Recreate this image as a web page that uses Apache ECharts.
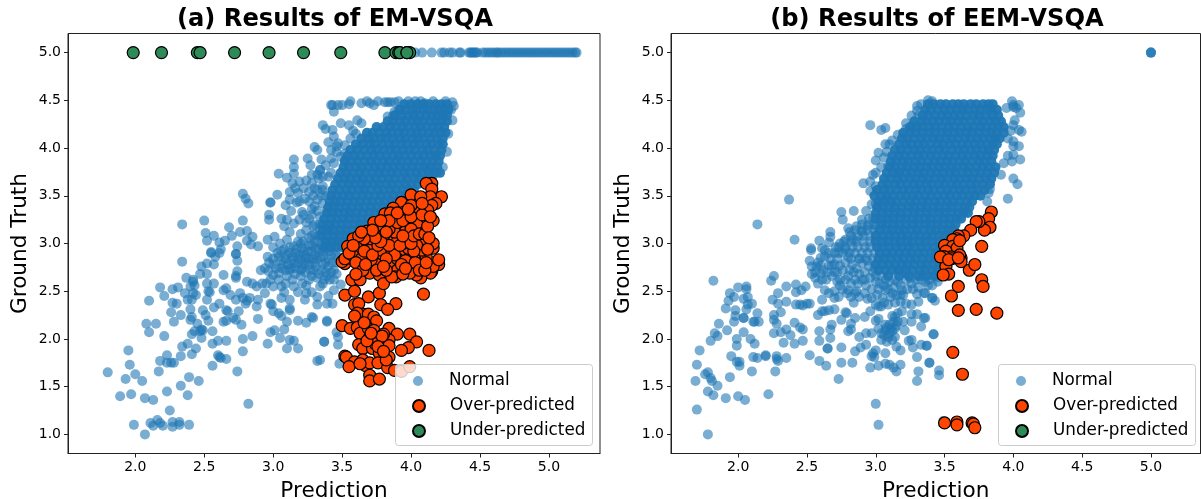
<!DOCTYPE html>
<html><head><meta charset="utf-8">
<style>html,body{margin:0;padding:0;background:#fff}#c{width:1201px;height:499px}</style>
<script src="https://cdn.jsdelivr.net/npm/echarts@6/dist/echarts.min.js"></script>
</head><body><div id="c"></div>
<script>
const xTicks=[2,2.5,3,3.5,4,4.5,5];
const yTicks=[1,1.5,2,2.5,3,3.5,4,4.5,5];
const titles=['(a) Results of EM-VSQA','(b) Results of EEM-VSQA'];
const seriesNames=['Normal','Over-predicted','Under-predicted'];

// Panel (a): normal, read at Ground Truth = 5
const aNormalTopX=[4.0,4.03,4.08,4.15,4.22,4.24,4.28,4.30,4.35,4.36,4.42,4.43,4.44,4.45,4.46,4.47,4.48,4.52,4.54,4.56,4.58,4.60,4.62,4.63,4.65,4.67,4.69,4.71,4.73,4.75,4.77,4.79,4.81,4.83,4.85,4.87,4.89,4.91,4.93,4.95,4.97,4.99,5.01,5.03,5.05,5.07,5.09,5.11,5.13,5.15,5.17,5.19,5.2];
// Panel (a): normal, sparse region
const aNormalSparse=[[1.80,1.65],[1.95,1.88],[1.96,1.73],[2.0,1.63],[1.93,1.58],[2.05,1.56],[1.89,1.40],[1.97,1.42],[2.07,1.38],[2.13,1.36],[1.99,1.10],[2.07,1.0],[2.11,1.12],[2.13,1.09],[2.16,1.15],[2.18,1.12],[2.20,1.09],[2.27,1.13],[2.27,1.08],[2.32,1.13],[2.32,1.10],[2.39,1.10],[2.25,1.25],[2.23,1.45],[2.33,1.51],[2.38,1.41],[2.39,1.60],[2.46,1.56],[2.17,1.66],[2.18,1.77],[2.23,1.83],[2.23,1.75],[2.26,1.75],[2.28,1.75],[2.33,1.82],[2.34,1.92],[2.38,1.95],[2.44,1.90],[2.41,1.84],[2.08,2.16],[2.15,2.16],[2.10,2.07],[2.21,2.03],[2.10,2.40],[2.18,2.54],[2.21,2.45],[2.27,2.52],[2.31,2.54],[2.27,2.38],[2.30,2.37],[2.26,2.28],[2.33,2.25],[2.28,2.18],[2.34,2.81],[2.37,2.64],[2.36,2.48],[2.38,2.41],[2.42,2.62],[2.42,2.60],[2.43,2.56],[2.40,2.55],[2.42,2.48],[2.44,2.46],[2.41,2.41],[2.40,2.31],[2.41,2.23],[2.40,2.20],[2.45,2.16],[2.43,2.08],[2.41,2.05],[2.49,2.09],[2.48,2.10],[2.47,2.08],[2.48,2.01],[2.49,2.30],[2.51,2.25],[2.53,2.19],[2.52,2.41],[2.53,2.50],[2.52,2.58],[2.57,2.58],[2.54,2.49],[2.57,2.33],[2.47,2.68],[2.48,2.76],[2.52,2.79],[2.52,2.68],[2.55,2.90],[2.58,2.86],[2.57,2.78],[2.61,2.90],[2.56,2.08],[2.56,1.95],[2.60,1.98],[2.66,1.98],[2.60,1.83],[2.61,1.81],[2.62,1.80],[2.66,1.79],[2.56,1.72],[2.74,1.66],[2.82,1.32],[2.78,1.87],[2.78,2.0],[2.85,2.03],[2.77,2.15],[2.61,2.37],[2.64,2.18],[2.66,2.19],[2.66,2.30],[2.67,2.29],[2.69,2.46],[2.64,2.51],[2.66,2.53],[2.64,2.67],[2.73,2.66],[2.73,2.64],[2.74,2.71],[2.73,2.89],[2.74,2.82],[2.71,2.22],[2.73,2.20],[2.75,2.29],[2.73,2.41],[2.76,2.48],[2.78,2.43],[2.81,2.40],[2.83,2.43],[2.80,2.37],[2.81,2.60],[2.85,2.58],[2.89,2.21],[2.88,2.34],[2.89,2.41],[2.88,2.55],[2.92,2.58],[2.91,2.72],[2.96,1.95],[2.98,2.07],[3.01,2.09],[3.05,2.01],[3.08,2.10],[3.10,1.90],[3.12,1.99],[3.15,1.98],[3.18,1.90],[3.32,1.77],[3.37,1.97],[3.39,2.18],[3.24,2.17],[3.18,2.19],[3.28,2.23],[3.29,2.22],[3.10,2.18],[2.98,2.37],[2.99,2.36],[3.0,2.29],[3.04,2.27],[3.06,2.24],[3.12,2.3],[3.12,2.32],[3.06,2.43],[3.12,2.41],[3.43,2.37],[3.39,2.19],[3.46,2.07],[3.47,2.02],[3.37,1.97],[3.47,1.94],[3.34,1.78],[3.48,1.74],[3.49,2.57],[3.44,2.51],
[2.34,3.20],[2.5,3.24],[2.51,3.11],[2.52,3.03],[2.57,3.08],[2.61,3.01],[2.65,3.03],[2.62,2.94],[2.55,2.91],[2.68,3.17],[2.70,3.08],[2.76,3.12],[2.81,3.13],[2.78,3.24],[2.74,2.97],[2.73,2.89],[2.81,3.03],[2.84,2.99],[2.89,2.97],[2.85,3.07],[2.96,3.04],[2.97,3.30],[2.97,3.25],[2.78,3.52],[2.80,3.47],[2.82,3.42],[2.98,3.43],[2.98,3.43],[3.03,3.51],[3.01,3.07],[3.04,3.73],[3.10,3.69],[3.15,3.88],[3.15,3.80],[3.15,3.73],[3.14,3.63],[3.19,3.65],[3.24,3.66],[3.25,3.89],[3.27,3.82],[3.34,3.77],[3.33,3.68],[3.30,4.01],[3.32,3.98],[3.36,4.24],[3.38,4.20],[3.42,4.45],[3.12,3.54],[3.18,3.53],[3.26,3.54],[3.19,3.44],[3.12,3.46],[3.09,3.40],[3.13,3.34],[3.21,3.33],[3.26,3.44],[3.30,3.39],[3.30,3.58],[3.36,3.56],[3.06,3.26],[3.10,3.25],[3.19,3.25],[3.24,3.22],[3.15,3.21],[3.12,3.12],[3.29,3.18],[3.34,3.28],[3.39,3.35],[3.41,3.18],[3.17,3.43],[3.23,3.47],[3.16,3.58],[3.22,3.58],[3.28,3.63],[3.22,3.30],[3.28,3.30],[3.32,3.46],[3.36,3.42],[3.34,3.14],[3.30,3.10],[3.26,3.06],[3.20,3.10],[3.28,3.36],[3.08,3.18],
[2.94,2.74],[2.965,2.71],[3.0,2.67],[3.04,2.69],[2.95,2.58],[3.0,2.55],[2.94,2.48],[3.09,2.58],[3.06,2.55],[3.15,2.55],[3.21,2.58],[3.12,2.72],[3.21,2.74],[3.24,2.48],[3.23,2.41],[3.32,2.44],[3.32,2.36],[3.39,2.37],[3.34,2.55],[3.29,2.72],[3.26,2.62],[3.32,2.64],[3.36,2.58],[2.97,2.80],[3.0,2.84],[3.03,2.90],[3.06,2.82],[3.08,2.94],[3.10,2.88],[3.13,2.82],[3.15,2.97],[3.16,2.90],[3.18,2.84],[3.20,3.0],[3.22,2.92],[3.24,2.85],[3.26,2.98],[3.28,2.92],[3.30,2.80],[3.32,3.02],[3.33,2.94],[3.34,2.86],[3.36,2.78],[3.38,2.70],[3.40,2.84],[3.41,2.62],[3.44,2.72],[3.46,2.80],[3.00,2.96],[3.05,3.0],[3.10,3.04],[3.18,3.02],[3.06,2.74],[3.10,2.66],[3.16,2.68],[3.20,2.66],[3.12,2.96],[3.22,2.78],[3.26,2.78],[3.30,2.88],[3.36,2.92],[3.41,2.92],[3.38,3.02],[3.14,2.62],[3.04,2.62],[2.98,2.62],[3.24,2.56],[3.18,2.49],[3.08,2.49],[3.28,2.49],[3.40,2.45],
[3.43,4.45],[3.47,4.45],[3.50,4.45],[3.56,4.49],[3.55,4.46],[3.44,4.38],[3.64,4.47],[3.68,4.49],[3.70,4.47],[3.73,4.45],[3.76,4.49],[3.81,4.48],[3.83,4.48],[3.85,4.48],[3.88,4.48],[3.91,4.49],[3.98,4.49],[4.03,4.49],[4.07,4.49],[4.10,4.47],[4.16,4.49],[4.25,4.49],[4.30,4.48],[4.31,4.44],[4.29,4.40],[3.87,4.34],[3.83,4.33],[3.88,4.38],[3.91,4.40],[3.49,4.26],[3.43,4.19],[3.44,4.12],[3.47,4.05],[3.52,4.03],[3.56,4.10],[3.55,4.24],[3.61,4.29],[3.64,4.26],[3.60,4.15],[3.58,4.18],[3.49,3.91],[4.26,3.96],[4.23,3.80],[4.16,3.77],[4.11,3.77],[4.27,4.15],[4.30,4.29],[3.42,3.89],[3.44,3.84],[3.40,3.70],[3.34,3.77],[3.42,3.74],[3.36,3.60],[3.52,3.94],[3.52,3.87],[3.46,3.96],[3.38,3.50]];
// Panel (a): extra points in the dark band left of the core
const aNormalDense=[[2.96,2.86],[3.0,2.78],[3.02,2.74],[3.04,2.86],[3.06,2.92],[3.07,2.78],[3.09,2.84],[3.09,2.72],[3.11,2.78],[3.12,2.9],[3.13,2.74],[3.14,2.86],[3.15,2.79],[3.16,2.74],[3.17,2.94],[3.18,2.79],[3.19,2.88],[3.2,2.72],[3.2,2.83],[3.21,2.95],[3.23,2.88],[3.23,2.7],[3.24,2.8],[3.25,2.92],[3.26,2.84],[3.27,2.72],[3.28,2.98],[3.28,2.66],[3.29,2.84],[3.31,2.94],[3.31,2.76],[3.32,2.84],[3.33,2.68],[3.35,2.98],[3.35,2.72],[3.36,2.86],[3.37,2.62],[3.38,2.94],[3.38,2.8],[3.39,2.66],[3.4,2.98],[3.4,2.76],[3.42,2.88],[3.42,2.7],[3.43,2.8],[3.44,3.0],[3.44,2.62],[3.45,2.9],[3.46,2.68],[3.47,2.86],[3.3,3.02],[3.28,3.08],[3.33,3.08],[3.24,3.14],[3.22,3.02],[3.3,3.2],[3.34,3.2],[3.26,3.26],[3.32,3.34],[3.35,3.5],[3.29,3.5],[3.32,3.56],[3.36,3.7],[3.32,3.72],[3.28,3.72],[3.38,3.82],[3.35,3.88],[3.42,3.98],[3.46,4.02],[3.4,4.06]];
// Panel (a): normal, saturated core; each row is [Ground Truth, predictions]
const aNormalCore=[[4.46,[3.95,4.00,4.05,4.09,4.13,4.18,4.22,4.26]],[4.40,[3.92,3.96,4.01,4.04,4.09,4.12,4.17,4.20,4.24,4.27]],[4.34,[3.88,3.93,3.98,4.02,4.06,4.11,4.15,4.19,4.23,4.26]],[4.28,[3.83,3.87,3.92,3.96,4.01,4.05,4.09,4.14,4.18,4.22,4.26]],[4.22,[3.75,3.80,3.85,3.89,3.94,3.98,4.03,4.07,4.11,4.16,4.20,4.24]],[4.16,[3.68,3.72,3.77,3.82,3.86,3.91,3.95,4.00,4.04,4.08,4.13,4.17,4.21,4.25]],[4.10,[3.64,3.69,3.73,3.78,3.82,3.87,3.92,3.96,4.01,4.05,4.09,4.14,4.19,4.23]],[4.04,[3.60,3.65,3.70,3.74,3.79,3.84,3.88,3.93,3.97,4.02,4.06,4.11,4.15,4.20,4.23]],[3.98,[3.56,3.61,3.66,3.71,3.75,3.80,3.85,3.89,3.94,3.99,4.03,4.08,4.12,4.17,4.22]],[3.92,[3.54,3.59,3.63,3.68,3.73,3.77,3.82,3.87,3.91,3.95,4.00,4.05,4.09,4.14,4.18,4.21]],[3.86,[3.52,3.57,3.61,3.66,3.71,3.75,3.80,3.84,3.89,3.93,3.98,4.02,4.07,4.11,4.16,4.20]],[3.80,[3.51,3.55,3.60,3.64,3.69,3.74,3.78,3.83,3.87,3.92,3.96,4.01,4.05,4.10,4.14,4.19]],[3.74,[3.49,3.53,3.58,3.63,3.67,3.72,3.77,3.81,3.86,3.90,3.95,3.99,4.04,4.08,4.13,4.18,4.21]],[3.68,[3.47,3.52,3.56,3.61,3.65,3.70,3.74,3.79,3.84,3.88,3.93,3.97,4.02,4.06,4.11,4.15]],[3.62,[3.45,3.50,3.55,3.59,3.64,3.68,3.73,3.77,3.82,3.86,3.91,3.96,4.00,4.05]],[3.56,[3.43,3.48,3.53,3.57,3.62,3.66,3.71,3.76,3.80,3.85,3.89,3.94,3.98,4.02]],[3.50,[3.42,3.46,3.51,3.55,3.60,3.65,3.69,3.74,3.78,3.83,3.87,3.92,3.96]],[3.44,[3.41,3.45,3.49,3.54,3.59,3.63,3.68,3.72,3.77,3.81,3.86,3.90]],[3.38,[3.40,3.44,3.48,3.53,3.57,3.62,3.66,3.71,3.75,3.80,3.84]],[3.32,[3.39,3.43,3.47,3.52,3.56,3.60,3.65,3.70,3.74,3.78]],[3.26,[3.37,3.42,3.46,3.51,3.55,3.60,3.64,3.69,3.73]],[3.20,[3.36,3.41,3.45,3.50,3.54,3.59,3.63,3.67]],[3.14,[3.36,3.40,3.44,3.49,3.53,3.58,3.62]],[3.08,[3.35,3.39,3.44,3.48,3.53,3.56]],[3.02,[3.38,3.43,3.47,3.51]],[2.96,[3.37,3.42,3.46,3.50]]];
const aOver=[[4.09,2.47],[3.52,2.46],[3.59,2.50],[3.69,2.44],[3.77,2.48],[3.89,2.37],[3.78,2.36],[3.83,2.31],[3.59,2.36],[3.62,2.37],[3.65,2.26],[3.61,2.27],[3.69,2.26],[3.59,2.24],[3.73,2.23],[3.75,2.19],[3.50,2.14],[3.56,2.11],[3.61,2.12],[3.63,2.06],[3.69,2.11],[3.73,2.09],[3.70,2.02],[3.76,2.01],[3.84,2.11],[3.90,2.05],[3.99,2.05],[4.04,1.97],[4.13,1.88],[3.98,1.91],[3.93,1.88],[3.84,1.99],[3.84,1.93],[3.62,1.94],[3.65,1.90],[3.72,1.90],[3.77,1.85],[3.84,1.81],[3.52,1.82],[3.53,1.81],[3.59,1.76],[3.55,1.71],[3.65,1.78],[3.67,1.72],[3.70,1.75],[3.76,1.75],[3.83,1.70],[3.88,1.67],[3.93,1.66],[3.99,1.71],[3.70,1.62],[3.70,1.56],[3.77,1.58],[3.82,1.78],[3.63,1.74],[3.74,1.95],[3.68,1.98],[3.80,2.05],[3.66,2.17],[3.79,2.03],[3.71,2.06],[3.76,1.92],[3.8,1.87],
[4.20,2.78],[4.15,2.71],[4.14,2.69],[4.16,2.76],[4.07,2.64],[4.04,2.67],[3.99,2.79],[3.99,2.69],[4.07,2.78],[4.11,2.86],[4.02,2.86],[3.52,2.79],[3.50,2.81],[3.58,2.83],[3.62,2.78],[3.57,2.62],[3.63,2.62],[3.70,2.69],[3.77,2.67],[3.80,2.58],[3.73,2.79],[3.80,2.90],[3.85,2.78],[3.90,2.72],[3.89,2.65],[3.95,2.88],[3.86,2.65],[3.68,2.88],[3.75,2.81],
[4.15,3.63],[4.11,3.63],[4.15,3.57],[4.22,3.49],[4.14,3.49],[4.18,3.42],[4.15,3.40],[4.02,3.47],[4.00,3.51],[4.07,3.49],[4.12,3.35],[4.04,3.37],[3.93,3.43],[3.87,3.37],[3.95,3.33],[3.81,3.31],[3.85,3.32],[3.88,3.23],[3.97,3.26],[4.16,3.24],[4.09,3.19],[4.04,3.21],[3.73,3.22],[3.68,3.13],[3.75,3.11],[3.80,3.18],[3.92,3.14],[3.96,3.13],[3.98,3.05],[3.85,3.05],[3.58,3.05],[3.54,2.97],[3.65,2.97],[3.73,2.98],[3.81,2.97],[4.09,3.01],[4.16,2.95],[4.16,3.0],[4.08,2.93],[4.04,2.98],[3.95,2.90],[3.92,2.92],[3.79,2.89],[3.68,2.88],[3.61,2.90],[4.0,2.86],[3.52,2.84],[4.20,2.83],[3.90,2.84],[3.71,2.83],[3.60,2.96],[3.70,2.93],[3.78,2.93],[3.86,2.93],[3.98,2.95],[4.02,2.92],[3.88,2.88],[3.58,2.87],[3.64,2.84],[3.62,3.0],[3.70,3.05],[3.80,3.08],[3.90,3.02],[3.94,3.0],[3.88,3.12],[3.84,3.15],[4.0,3.15],
[3.55,2.9],[3.6,2.8],[3.66,2.92],[3.72,2.88],[3.76,2.98],[3.82,2.84],[3.84,2.98],[3.92,2.98],[3.96,2.82],[3.93,2.78],[4.03,2.8],[4.06,2.72],[4.1,2.72],[4.11,2.8],[3.65,2.72],[3.67,2.78],[3.6,2.68],[3.75,2.72],[3.82,2.72],[3.8,2.76],[3.94,2.68],[3.96,2.74],[4.0,3.0],[4.02,3.08],[4.06,3.1],[4.1,3.1],[4.12,3.18],[3.94,3.08],[3.9,3.22],[3.94,3.24],[4.0,3.28],[3.78,3.02],[3.74,3.06],[3.66,3.05],[3.72,3.14],[3.84,3.24],[3.78,3.24],[4.08,3.3],[4.14,3.28],[4.0,3.4],[4.08,3.42],[3.62,3.08],[3.58,2.98],[3.64,3.12],[3.9,3.32],[3.98,3.36],[3.82,3.12],[4.12,2.94],[4.13,3.06]];
const aUnderX=[1.985,2.19,2.45,2.47,2.72,2.97,3.22,3.49,3.81,3.89,3.91,3.92,3.97,3.99,3.97];

// Panel (b)
const bNormalSparse=[[5,5],[5,5],[5,5],[1.82,2.61],[1.72,1.88],[1.70,1.73],[1.76,1.63],[1.78,1.65],[1.69,1.56],[1.80,1.59],[1.81,1.56],[1.85,1.51],[1.78,1.45],[1.82,1.41],[1.91,1.38],[1.70,1.26],[1.78,1.0],[2.0,1.40],[2.05,1.36],[2.22,1.42],[1.94,1.60],[2.10,1.66],[2.27,1.66],[2.01,1.72],[1.99,1.76],[2.01,1.76],[1.95,1.82],[2.11,1.81],[2.14,1.80],[2.20,1.82],[2.20,1.83],[2.28,1.82],[2.28,1.79],[2.29,1.77],[2.35,1.80],[1.80,1.98],[1.83,2.06],[1.85,2.03],[1.86,2.16],[1.92,2.09],[1.99,2.0],[1.99,1.93],[2.04,2.07],[2.09,2.0],[2.12,1.95],[1.97,2.18],[1.98,2.24],[1.98,2.30],[1.91,2.32],[2.04,2.22],[2.04,2.22],[2.11,2.18],[2.12,2.18],[2.15,2.18],[2.14,2.27],[1.93,2.40],[1.94,2.48],[1.97,2.44],[2.0,2.54],[2.06,2.55],[2.06,2.52],[2.07,2.44],[2.04,2.42],[2.07,2.36],[2.10,2.37],[2.06,2.31],[2.24,2.61],[2.26,2.66],[2.29,2.48],[2.25,2.41],[2.29,2.37],[2.35,2.39],[2.31,2.28],[2.26,2.25],[2.26,2.20],[2.28,2.16],[2.26,2.06],[2.31,2.07],[2.35,2.10],[2.38,2.04],[2.33,1.96],[2.41,1.95],[2.47,1.98],[2.41,2.17],[2.45,2.12],[2.47,2.10],[2.35,2.55],[2.42,2.57],[2.42,2.49],[2.49,2.55],[2.46,2.51],[2.42,2.36],[2.45,2.36],[2.47,2.35],[2.50,2.37],[2.52,2.37],[2.52,1.83],[2.59,1.77],[2.64,1.72],[2.73,1.58],[2.59,1.98],[2.59,2.08],[2.67,2.01],[2.65,1.90],[2.65,1.90],[2.75,1.91],[2.75,1.75],[2.83,1.75],[2.58,2.25],[2.61,2.41],[2.61,2.29],[2.63,2.29],[2.66,2.30],[2.68,2.15],[2.67,2.10],[2.70,2.31],[2.75,2.20],[2.79,2.27],[2.78,2.28],[2.82,2.16],[2.80,2.08],[2.82,2.10],[2.85,2.22],[2.88,2.02],[2.85,1.87],[2.89,1.91],[2.93,1.94],[2.93,2.06],[2.97,2.06],[3.0,2.19],[3.02,2.21],[2.92,2.23],[2.96,2.29],[2.97,1.82],[2.98,1.85],[2.99,1.81],[2.96,1.70],[3.02,1.72],[3.0,1.88],[3.07,1.85],[3.07,1.74],[3.10,1.73],[3.13,1.70],[3.15,1.66],[3.18,1.73],[3.18,1.88],[3.15,1.92],[3.0,1.32],[3.02,1.10],[3.30,1.56],[3.31,1.66],[3.30,1.81],[3.27,1.91],[3.33,1.94],[3.37,1.93],[3.26,1.99],[3.24,1.98],[3.39,1.75],[3.42,2.05],[3.33,2.13],[3.35,2.22],[3.30,2.26],[3.26,2.26],[3.26,2.18],[3.21,2.09],[3.19,2.51],[3.30,2.47],[3.35,2.48],[3.41,2.43],[3.18,2.39],[3.22,2.37],[3.26,2.36],[3.31,2.39],
[3.04,2.06],[3.07,2.09],[3.09,2.02],[3.12,2.08],[3.14,2.11],[3.08,1.97],[3.12,1.99],[3.04,1.99],[3.16,2.27],[3.19,2.29],[3.14,2.23],[3.13,2.18],[3.16,2.18],[3.20,2.18],[3.07,2.15],[3.14,2.02],[3.10,2.15],[3.02,2.11],[3.06,2.04],[3.10,2.06],[3.11,2.11],[3.08,2.12],[3.12,2.24],[3.15,2.14],
[2.53,2.93],[2.52,2.82],[2.535,2.76],[2.535,2.68],[2.57,2.76],[2.60,2.77],[2.56,2.64],[2.61,2.62],[2.58,2.58],[2.66,2.77],[2.68,2.77],[2.63,2.51],[2.66,2.48],[2.70,2.43],[2.73,2.44],[2.66,2.90],[2.73,2.90],[2.74,2.77],[2.81,2.72],[2.84,2.70],[2.80,2.51],[2.85,2.48],[2.84,2.38],[2.79,2.48],[2.87,2.58],[2.92,2.62],[2.90,2.79],[2.95,2.76],[2.98,2.70],[2.92,2.48],[2.97,2.43],[3.02,2.34],[3.04,2.34],[3.09,2.36],[3.07,2.51],[3.12,2.48],[3.14,2.62],[3.21,2.69],[3.16,2.72],[3.02,2.52],[2.88,2.68],[2.78,2.62],[2.72,2.60],[2.70,2.70],[2.64,2.62],[2.60,2.85],[2.67,2.84],[2.76,2.52],[3.05,2.43],[3.0,2.60],
[3.45,2.60],[3.36,2.48],[3.41,2.43],[3.43,2.40],[3.36,2.22],[3.42,2.05],[3.37,1.93],[3.39,1.75],[3.46,1.67],[3.46,1.62],[3.49,1.14],[3.26,2.58],[3.33,2.62],[3.38,2.56],[3.42,2.66],
[2.14,3.20],[2.37,3.46],[2.41,3.04],[2.53,2.95],[2.59,3.03],[2.67,3.12],[2.67,3.07],[2.63,2.93],[2.61,2.95],[2.66,3.01],[2.74,3.0],[2.80,3.16],[2.81,3.12],[2.86,3.18],[2.90,3.25],[2.98,3.27],[2.97,3.41],[3.0,3.42],[2.91,3.63],[2.96,3.65],[2.96,3.55],[3.0,3.87],[3.02,3.95],[2.98,3.72],[3.0,3.74],[2.96,4.24],[3.04,4.19],[3.07,4.21],[3.07,4.04],[3.10,4.04],[3.22,4.20],[3.27,4.24],[3.30,4.39],[3.31,4.34],[3.33,4.46],[3.38,4.50],[3.41,4.49],[3.16,3.74],[3.09,3.81],[2.75,3.33],[2.76,3.25],[2.84,3.34],[2.93,3.34],[2.71,2.96],[2.78,3.04],[2.84,3.04],[2.90,3.12],[2.94,3.18],[3.0,3.18],
[3.95,4.42],[3.99,4.49],[4.0,4.43],[4.04,4.45],[4.05,4.37],[4.02,4.42],[4.0,4.45],[4.06,4.17],[4.04,4.19],[4.01,4.29],[4.0,4.07],[4.04,4.02],[4.0,4.02],[4.0,3.93],[4.05,3.88],[3.99,3.86],[3.91,3.72],[4.0,3.68],[4.03,3.62],[3.96,3.47],[3.83,3.57],[3.82,3.53],[3.81,3.44],[3.93,3.84],[3.96,3.92],[3.96,4.10],[3.98,4.18],[4.0,4.24]];
// Panel (b): extra points in the mottled band below the core
const bNormalDense=[[2.56,2.7],[2.6,2.68],[2.62,2.72],[2.65,2.7],[2.68,2.66],[2.7,2.78],[2.72,2.7],[2.74,2.62],[2.76,2.72],[2.78,2.8],[2.8,2.66],[2.82,2.58],[2.83,2.78],[2.85,2.62],[2.86,2.74],[2.88,2.84],[2.9,2.62],[2.92,2.7],[2.93,2.56],[2.94,2.82],[2.96,2.64],[2.97,2.52],[2.99,2.74],[3.0,2.66],[3.01,2.46],[3.03,2.58],[3.04,2.66],[3.06,2.56],[3.07,2.62],[3.09,2.52],[3.1,2.6],[3.11,2.44],[3.13,2.54],[3.15,2.46],[3.16,2.6],[3.18,2.56],[3.2,2.46],[3.22,2.62],[3.23,2.52],[3.25,2.64],[3.27,2.52],[3.29,2.62],[3.31,2.54],[3.34,2.66],[3.36,2.6],[3.39,2.62],[3.41,2.56],[3.44,2.64],[2.86,2.5],[2.82,2.44],[2.88,2.44],[2.7,2.5],[2.74,2.56],[2.94,2.42],[3.0,2.36],[3.06,2.38],[3.14,2.38],[3.18,2.46],[2.58,2.8],[2.63,2.86],[2.7,2.9],[2.78,2.94],[2.8,2.86],[2.72,2.84],[3.08,3.46],[3.0,3.6],[3.04,3.8],[3.06,3.9],[3.08,3.96],[3.12,4.08],[3.16,4.14],[3.22,4.26],[3.26,4.34],[3.3,4.44],
[2.95,3.26],[2.90,3.20],[2.95,3.20],[2.99,3.20],[2.85,3.14],[2.90,3.14],[2.94,3.14],[2.99,3.14],[2.82,3.08],[2.87,3.08],[2.91,3.08],[2.96,3.08],[2.77,3.02],[2.82,3.02],[2.86,3.02],[2.91,3.02],[2.96,3.02],[2.73,2.96],[2.78,2.96],[2.83,2.96],[2.87,2.96],[2.92,2.96],[2.96,2.96],[2.76,2.90],[2.81,2.90],[2.85,2.90],[2.90,2.90],[2.94,2.90],[2.99,2.90],[2.82,2.84],[2.88,2.84],[2.93,2.84],[2.98,2.84]];
const bNormalCore=[[4.46,[3.38,3.42,3.47,3.51,3.56,3.60,3.64,3.69,3.73,3.78,3.82,3.85]],[4.40,[3.36,3.40,3.45,3.50,3.54,3.59,3.63,3.67,3.72,3.76,3.81,3.84,3.88]],[4.34,[3.34,3.38,3.43,3.48,3.52,3.57,3.61,3.66,3.71,3.75,3.80,3.85,3.89]],[4.28,[3.28,3.33,3.37,3.42,3.46,3.51,3.55,3.60,3.64,3.69,3.74,3.78,3.83,3.87,3.91]],[4.22,[3.25,3.30,3.34,3.39,3.43,3.48,3.53,3.57,3.62,3.67,3.71,3.76,3.80,3.85,3.89,3.93]],[4.16,[3.20,3.25,3.29,3.34,3.39,3.43,3.48,3.52,3.57,3.61,3.66,3.70,3.75,3.80,3.84,3.88,3.93]],[4.10,[3.19,3.23,3.28,3.33,3.37,3.42,3.46,3.51,3.55,3.60,3.65,3.69,3.74,3.78,3.83,3.87,3.90]],[4.04,[3.17,3.22,3.26,3.31,3.35,3.40,3.45,3.49,3.54,3.58,3.63,3.67,3.72,3.76,3.81,3.85,3.88]],[3.98,[3.14,3.18,3.23,3.28,3.32,3.37,3.41,3.46,3.50,3.55,3.60,3.64,3.69,3.73,3.78,3.82,3.86]],[3.92,[3.12,3.17,3.21,3.26,3.31,3.35,3.40,3.44,3.49,3.53,3.58,3.63,3.67,3.72,3.76,3.81,3.85]],[3.86,[3.11,3.15,3.20,3.24,3.29,3.33,3.38,3.43,3.47,3.52,3.56,3.61,3.65,3.70,3.75,3.79,3.84]],[3.80,[3.10,3.14,3.19,3.23,3.28,3.32,3.37,3.41,3.46,3.50,3.55,3.59,3.64,3.68,3.73,3.78,3.82,3.87]],[3.74,[3.08,3.13,3.17,3.22,3.26,3.31,3.35,3.40,3.44,3.49,3.54,3.58,3.63,3.67,3.72,3.76,3.81,3.86]],[3.68,[3.06,3.11,3.16,3.20,3.25,3.29,3.34,3.38,3.43,3.48,3.52,3.57,3.61,3.66,3.70,3.75,3.80,3.84]],[3.62,[3.05,3.09,3.14,3.18,3.23,3.28,3.32,3.37,3.41,3.46,3.50,3.55,3.59,3.64,3.69,3.73,3.78,3.83]],[3.56,[3.01,3.06,3.10,3.15,3.20,3.24,3.29,3.33,3.38,3.42,3.47,3.52,3.56,3.61,3.65,3.70,3.74,3.79]],[3.50,[2.99,3.04,3.08,3.13,3.18,3.22,3.27,3.31,3.36,3.40,3.45,3.50,3.54,3.59,3.63,3.68,3.72,3.76]],[3.44,[3.02,3.06,3.11,3.15,3.20,3.25,3.29,3.34,3.38,3.43,3.47,3.52,3.56,3.61,3.66,3.70]],[3.38,[3.01,3.05,3.10,3.14,3.19,3.24,3.28,3.33,3.37,3.42,3.46,3.51,3.55,3.60,3.65,3.68]],[3.32,[3.0,3.05,3.09,3.14,3.18,3.23,3.28,3.32,3.37,3.41,3.46,3.50,3.55,3.60,3.64,3.67]],[3.26,[3.0,3.04,3.09,3.13,3.18,3.22,3.27,3.31,3.36,3.40,3.45,3.50,3.54,3.59,3.62]],[3.20,[3.04,3.08,3.13,3.17,3.22,3.27,3.31,3.36,3.40,3.45,3.49,3.54,3.58]],[3.14,[3.03,3.08,3.12,3.17,3.21,3.26,3.30,3.35,3.40,3.44,3.49,3.53,3.57]],[3.08,[3.0,3.05,3.10,3.14,3.19,3.23,3.28,3.32,3.37,3.41,3.46,3.50,3.54]],[3.02,[3.0,3.05,3.09,3.14,3.18,3.23,3.27,3.32,3.36,3.41,3.46,3.50]],[2.96,[3.01,3.05,3.10,3.15,3.19,3.24,3.28,3.33,3.37,3.42,3.47]],[2.90,[3.03,3.08,3.12,3.17,3.22,3.26,3.31,3.35,3.40,3.44,3.48]],[2.84,[3.02,3.06,3.11,3.16,3.20,3.25,3.29,3.34,3.39,3.43,3.47]],[2.78,[3.0,3.05,3.10,3.14,3.19,3.23,3.28,3.33,3.37,3.42,3.46]],[2.72,[3.02,3.07,3.12,3.17,3.22,3.27,3.32,3.36,3.41,3.45]],[2.66,[3.09,3.17,3.24,3.31,3.37,3.43]]];
const bOver=[[3.84,3.33],[3.82,3.26],[3.83,3.17],[3.79,3.14],[3.75,3.23],[3.73,3.23],[3.69,3.14],[3.64,3.08],[3.60,3.08],[3.59,3.05],[3.56,3.04],[3.50,2.98],[3.56,2.97],[3.59,2.95],[3.51,2.92],[3.77,2.97],[3.61,3.03],[3.55,2.86],[3.49,2.86],[3.62,2.85],[3.55,2.84],[3.50,2.86],[3.51,2.76],[3.53,2.68],[3.49,2.67],[3.61,2.88],[3.62,2.81],[3.68,2.72],[3.72,2.78],[3.77,2.62],[3.78,2.55],[3.60,2.55],[3.55,2.45],[3.60,2.30],[3.73,2.31],[3.88,2.27],[3.56,1.86],[3.63,1.63],[3.50,1.12],[3.59,1.13],[3.59,1.10],[3.70,1.12],[3.71,1.11],[3.72,1.07],[3.47,2.86],[3.53,2.83],[3.60,2.85]];
const bUnder=[];

const BLUE='#1f77b4',ORANGE='#ff4500',GREEN='#2e8b57',FONT='DejaVu Sans';
const expandRows=rows=>[].concat(...rows.map(r=>r[1].map(x=>[x,r[0]])));
const panels=[
 {normal:aNormalTopX.map(x=>[x,5]).concat(aNormalSparse,aNormalDense),core:expandRows(aNormalCore),over:aOver,under:aUnderX.map(x=>[x,5])},
 {normal:bNormalSparse.concat(bNormalDense),core:expandRows(bNormalCore),over:bOver,under:bUnder}
];
const geom=[{left:68,width:532,box:395,marker:418,title:330},{left:671,width:529.5,box:998,marker:1021,title:932}];
const gridTop=33.5,gridBottom=453.5,boxTop=364,boxH=81,boxW=197;

const axisBase={type:'value',axisLine:{onZero:false,lineStyle:{color:'#222',width:1}},splitLine:{show:false}};
const tickFmt=v=>v.toFixed(1);
const option={animation:false,backgroundColor:'#fff',textStyle:{fontFamily:FONT},
 title:[],grid:[],xAxis:[],yAxis:[],series:[],legend:[],graphic:{elements:[]}};
geom.forEach((g,i)=>{
 option.title.push({text:titles[i],left:g.title,top:3,textAlign:'center',textStyle:{fontFamily:FONT,fontWeight:'bold',fontSize:24.2,color:'#000'}});
 option.grid.push({left:g.left,top:gridTop,width:g.width,height:gridBottom-gridTop,show:true,outerBoundsMode:'none',containLabel:false,borderColor:'#222',borderWidth:1,backgroundColor:'transparent'});
 option.xAxis.push({...axisBase,gridIndex:i,min:1.512,max:i?5.36:5.37,name:'Prediction',nameLocation:'middle',nameGap:27,nameTextStyle:{fontFamily:FONT,fontSize:21.6,color:'#000'},
  axisTick:{length:4,lineStyle:{color:'#222'},customValues:xTicks},axisLabel:{customValues:xTicks,formatter:tickFmt,color:'#000',fontFamily:FONT,fontSize:14,margin:7}});
 option.yAxis.push({...axisBase,gridIndex:i,min:0.8,max:5.2,name:'Ground Truth',nameLocation:'middle',nameGap:37,nameRotate:90,nameTextStyle:{fontFamily:FONT,fontSize:21.6,color:'#000'},
  axisTick:{length:4,lineStyle:{color:'#222'},customValues:yTicks},axisLabel:{customValues:yTicks,formatter:tickFmt,color:'#000',fontFamily:FONT,fontSize:14,margin:7}});
 const p=panels[i];
 option.series.push(
  {name:seriesNames[0],type:'scatter',xAxisIndex:i,yAxisIndex:i,data:p.normal,symbolSize:10,z:2,itemStyle:{color:BLUE,opacity:0.6,borderWidth:0},emphasis:{disabled:true}},
  {name:seriesNames[0],type:'scatter',xAxisIndex:i,yAxisIndex:i,data:p.core,symbolSize:10,z:2,itemStyle:{color:BLUE,opacity:0.95,borderWidth:0},emphasis:{disabled:true}},
  {name:seriesNames[1],type:'scatter',xAxisIndex:i,yAxisIndex:i,data:p.over,symbolSize:12,z:3,itemStyle:{color:ORANGE,borderColor:'#000',borderWidth:1.2,opacity:1},emphasis:{disabled:true}},
  {name:seriesNames[2],type:'scatter',xAxisIndex:i,yAxisIndex:i,data:p.under,symbolSize:12,z:4,itemStyle:{color:GREEN,borderColor:'#000',borderWidth:1.2,opacity:1},emphasis:{disabled:true}}
 );
 option.graphic.elements.push({type:'rect',z:50,silent:true,shape:{x:g.box+0.5,y:boxTop+0.5,width:boxW,height:boxH,r:3},style:{fill:'rgba(255,255,255,0.8)',stroke:'#ccc',lineWidth:1}});
 seriesNames.forEach((n,k)=>{
  const h=k?12:10;
  option.legend.push({data:[n],orient:'horizontal',left:g.marker-h/2,top:boxTop+7+k*25,padding:0,itemWidth:52,itemHeight:h,itemGap:0,z:60,selectedMode:false,
   textStyle:{fontFamily:FONT,fontSize:16.8,color:'#000',lineHeight:20}});
 });
});
const chart=echarts.init(document.getElementById('c'),null,{renderer:'canvas'});
chart.setOption(option);
</script></body></html>
